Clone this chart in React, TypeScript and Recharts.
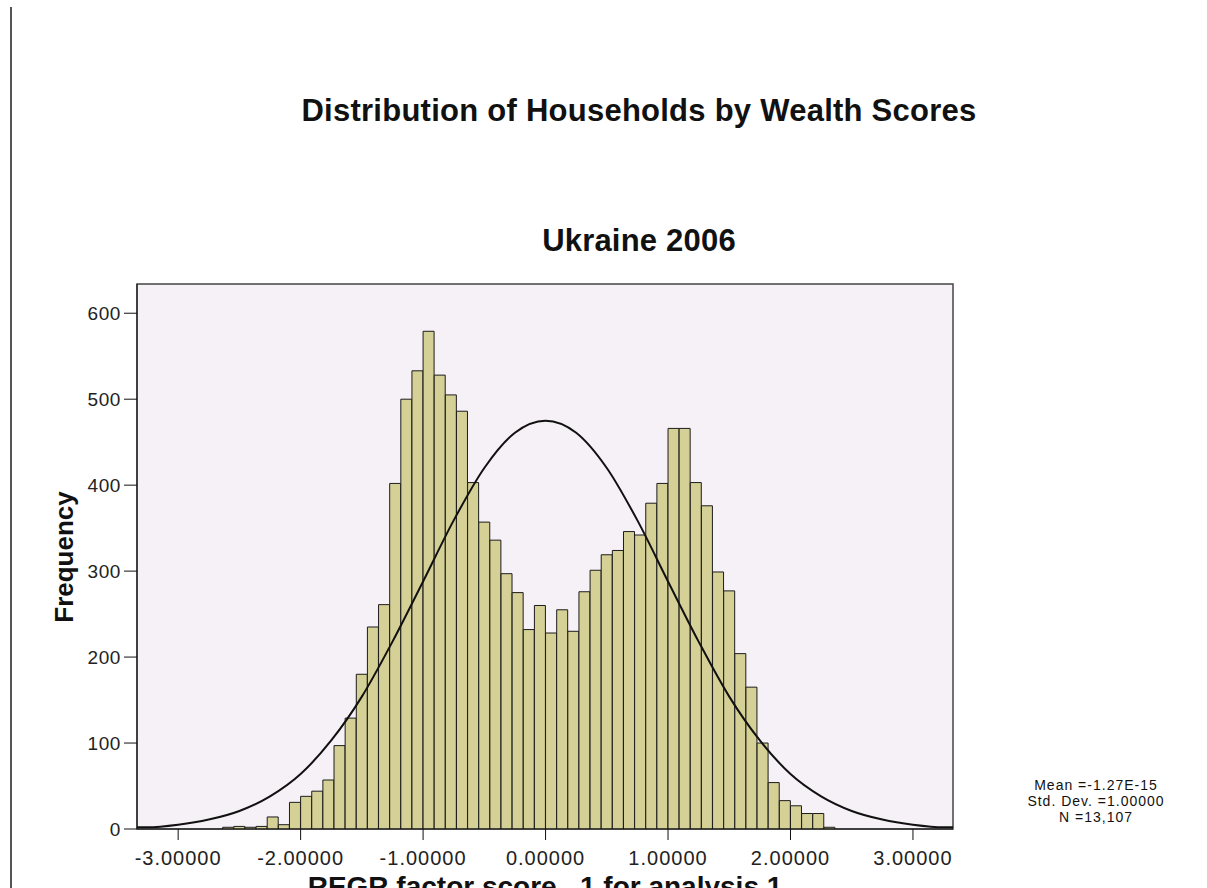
import React from "react"
import { Bar, CartesianGrid, ComposedChart, Line, ReferenceArea, XAxis, YAxis } from "recharts"

// histogram bins: 11 per unit, the first one starts at -29/11
const binWidth = 1 / 11
const firstBinEdge = -29 / 11
const frequencies = [
  2, 3, 2, 3, 14, 5, 31, 38, 44, 57, 97, 129, 180, 235, 261,
  402, 500, 533, 579, 528, 505, 486, 403, 357, 336, 297, 275, 232, 260,
  228, 255, 230, 276, 301, 319, 324, 346, 342, 379, 402, 466, 466, 403,
  376, 299, 277, 204, 165, 100, 54, 33, 27, 18, 18, 2,
]

// normal curve
const curveX = [
  -3.336, -3.25, -3, -2.75, -2.5, -2.25, -2, -1.75, -1.5, -1.25, -1, -0.75, -0.5, -0.25,
  0, 0.25, 0.5, 0.75, 1, 1.25, 1.5, 1.75, 2, 2.25, 2.5, 2.75, 3, 3.25, 3.327,
]
const curveY = [
  2, 2, 5, 11, 21, 38, 64, 103, 154, 218, 288, 359, 420, 461,
  475, 461, 420, 359, 288, 218, 154, 103, 64, 38, 21, 11, 5, 2, 2,
]

const xTicks = [-3, -2, -1, 0, 1, 2, 3]
const yTicks = [0, 100, 200, 300, 400, 500, 600]
const xDomain: [number, number] = [-3.336, 3.327]
const yDomain: [number, number] = [0, 634]

const title = "Distribution of Households by Wealth Scores"
const subtitle = "Ukraine 2006"
const xLabel = "REGR factor score   1 for analysis 1"
const yLabel = "Frequency"
const stats = ["Mean =-1.27E-15", "Std. Dev. =1.00000", "N =13,107"]

const histRows = frequencies.map((freq, i) => ({
  center: firstBinEdge + (i + 0.5) * binWidth,
  freq,
}))
const curveRows = curveX.map((x, i) => ({ x, y: curveY[i] }))

export default function App() {
  return (
    <div
      style={{
        position: "absolute",
        left: 0,
        top: 0,
        width: 1207,
        height: 888,
        overflow: "hidden",
        background: "#fff",
        fontFamily: "'Liberation Sans', Arial, sans-serif",
        color: "#111",
      }}
    >
      <div style={{ position: "absolute", left: 10, top: 7, width: 2, height: 881, background: "#555" }} />

      <div style={{ position: "absolute", left: 0, width: 1278, top: 95, textAlign: "center", fontSize: 31, lineHeight: "31px", fontWeight: "bold", letterSpacing: 0.25 }}>
        {title}
      </div>
      <div style={{ position: "absolute", left: 0, width: 1278, top: 225, textAlign: "center", fontSize: 31, lineHeight: "31px", fontWeight: "bold", letterSpacing: 0.2 }}>
        {subtitle}
      </div>

      <ComposedChart
        width={1207}
        height={888}
        data={histRows}
        margin={{ top: 284, right: 254, bottom: 0, left: 0 }}
        barCategoryGap={0}
        barGap={0}
      >
        <CartesianGrid horizontal={false} vertical={false} fill="#f6f1f6" />
        <XAxis
          xAxisId="bins"
          dataKey="center"
          type="number"
          domain={xDomain}
          allowDataOverflow
          hide
        />
        <XAxis
          dataKey="x"
          type="number"
          domain={xDomain}
          allowDataOverflow
          ticks={xTicks}
          tickFormatter={(v: number) => v.toFixed(5)}
          height={59}
          tickSize={11}
          tickMargin={11}
          stroke="#111"
          tick={{ fill: "#222", fontSize: 20, letterSpacing: 1 }}
          interval={0}
        />
        <YAxis
          type="number"
          domain={yDomain}
          allowDataOverflow
          ticks={yTicks}
          width={137}
          tickSize={13}
          tickMargin={3}
          stroke="#111"
          tick={{ fill: "#222", fontSize: 19, letterSpacing: 0.6 }}
          interval={0}
        />
        <Bar
          xAxisId="bins"
          dataKey="freq"
          fill="#d5d096"
          stroke="#1c1c1c"
          strokeWidth={1}
          isAnimationActive={false}
        />
        <Line
          data={curveRows}
          dataKey="y"
          type="monotone"
          stroke="#111"
          strokeWidth={2}
          dot={false}
          activeDot={false}
          isAnimationActive={false}
        />
        <ReferenceArea x1={xDomain[0]} x2={xDomain[1]} y1={yDomain[0]} y2={yDomain[1]} fill="none" stroke="#444" strokeWidth={1.5} />
      </ComposedChart>

      <div
        style={{
          position: "absolute",
          left: 64,
          top: 557,
          transform: "translate(-50%, -50%) rotate(-90deg)",
          fontSize: 26,
          lineHeight: "26px",
          fontWeight: "bold",
          whiteSpace: "nowrap",
        }}
      >
        {yLabel}
      </div>

      <div style={{ position: "absolute", left: 0, width: 1090, top: 873, textAlign: "center", fontSize: 28, lineHeight: "28px", fontWeight: "bold", whiteSpace: "pre" }}>
        {xLabel}
      </div>

      <div style={{ position: "absolute", left: 996, width: 200, top: 777, textAlign: "center", fontSize: 14, lineHeight: "16px", letterSpacing: 1 }}>
        {stats.map((s) => (
          <div key={s}>{s}</div>
        ))}
      </div>
    </div>
  )
}
